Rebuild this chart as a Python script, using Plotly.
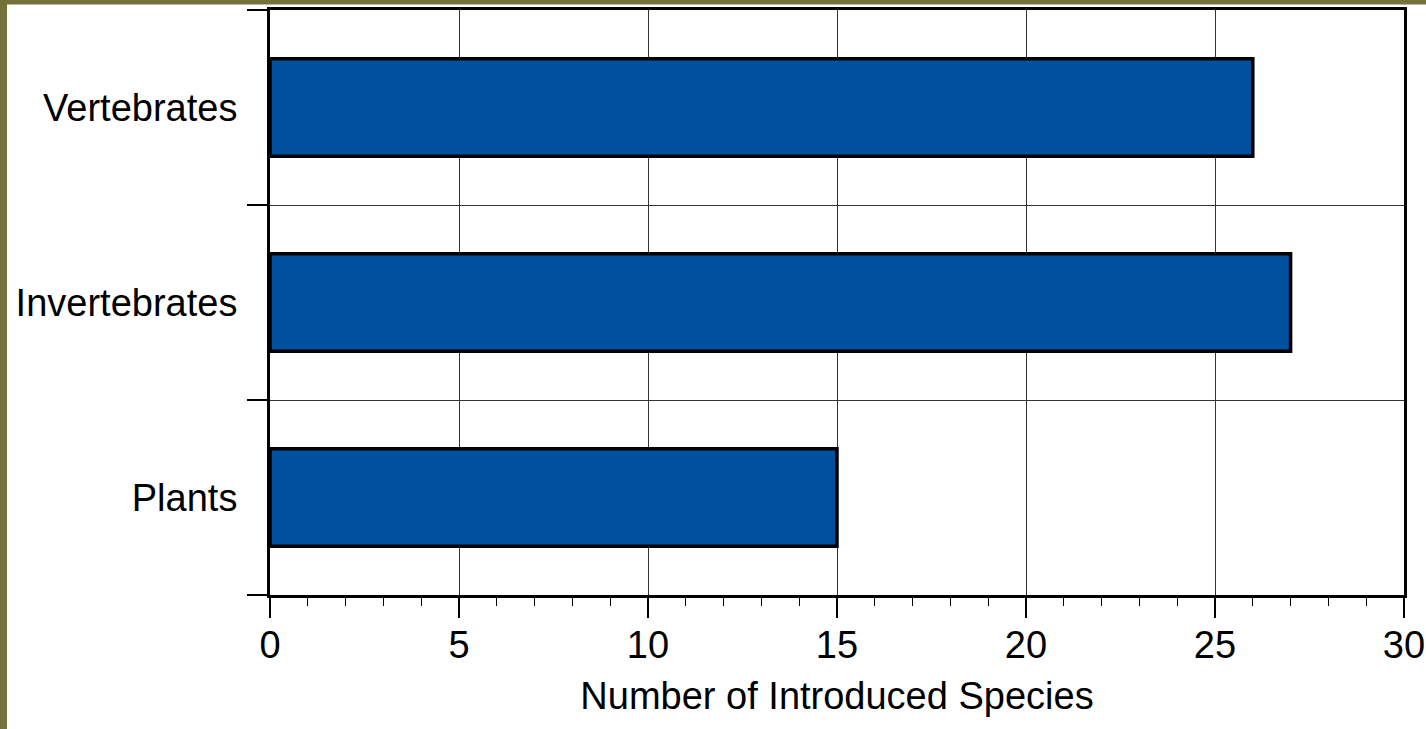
import plotly.graph_objects as go

categories = ["Plants", "Invertebrates", "Vertebrates"]
values = [15, 27, 26]
x_ticks = [0, 5, 10, 15, 20, 25, 30]
x_title = "Number of Introduced Species"

W, H = 1426, 729
L, R, T, B = 270, 22, 10, 134
pw, ph = W - L - R, H - T - B

fig = go.Figure(go.Bar(
    x=values, y=categories, orientation="h", width=0.5,
    marker=dict(color="#0050A0", line=dict(color="black", width=3.5)),
))

font = dict(family="Liberation Sans, Arial, sans-serif", size=38, color="black")

fig.update_layout(
    width=W, height=H, margin=dict(l=L, r=R, t=T, b=B, autoexpand=False),
    paper_bgcolor="white", plot_bgcolor="white", showlegend=False,
    font=font,
    xaxis=dict(
        range=[0, 30], tickvals=x_ticks, ticks="outside", ticklen=20, tickwidth=1.5,
        tickcolor="black", showgrid=True, gridcolor="#333333", gridwidth=1,
        showline=True, linecolor="black", linewidth=3, mirror=True, zeroline=False,
        minor=dict(dtick=1, ticks="outside", ticklen=8, tickcolor="black", tickwidth=1, showgrid=False),
        title=dict(text=x_title, font=font, standoff=18),
        tickfont=font, fixedrange=True, automargin=False, ticklabelstandoff=-6,
    ),
    yaxis=dict(
        type="category", categoryorder="array", categoryarray=categories,
        tickson="boundaries", ticks="outside", ticklen=20, tickwidth=1.5, tickcolor="black",
        showgrid=True, gridcolor="#333333", gridwidth=1,
        showline=True, linecolor="black", linewidth=3, mirror=True,
        tickfont=font, range=[-0.5, 2.5], fixedrange=True, ticklabelstandoff=22,
        automargin=False,
    ),
    shapes=[
        dict(type="rect", xref="paper", yref="paper",
             x0=-L / pw, x1=(7 - L) / pw, y0=-B / ph, y1=1 + T / ph,
             fillcolor="#75713A", line=dict(width=0), layer="above"),
        dict(type="rect", xref="paper", yref="paper",
             x0=-L / pw, x1=1 + R / pw, y0=1 + (T - 4.5) / ph, y1=1 + T / ph,
             fillcolor="#75713A", line=dict(width=0), layer="above"),
    ],
)

fig.write_html("out.html", config={"displayModeBar": False},
               post_script="document.body.style.margin='0';document.body.style.overflow='hidden';")
